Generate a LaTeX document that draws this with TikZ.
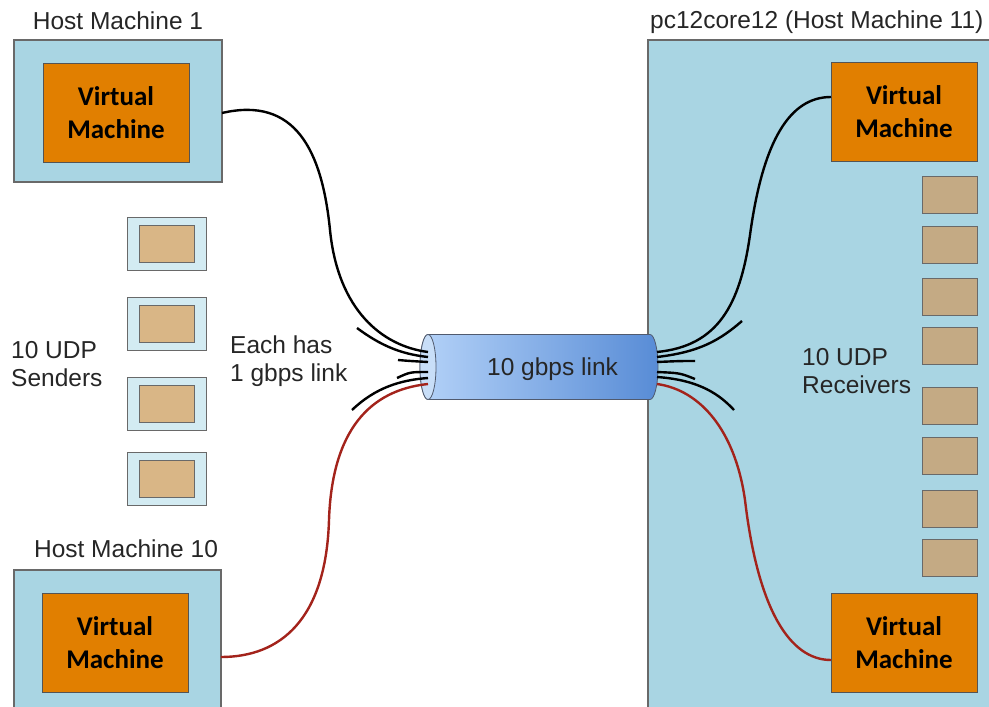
\documentclass[tikz,border=0pt]{standalone}
\usepackage{fontspec}
\setmainfont{Liberation Sans}
\newfontfamily\vmfont{Carlito}
\definecolor{hostblue}{RGB}{169,213,227}
\definecolor{vmorange}{RGB}{225,127,0}
\definecolor{sndouter}{RGB}{211,235,242}
\definecolor{sndinner}{RGB}{217,182,134}
\definecolor{rcvtan}{RGB}{196,170,132}
\definecolor{edgegray}{RGB}{105,105,105}
\definecolor{wirered}{RGB}{163,35,27}
\definecolor{tubelight}{RGB}{180,210,248}
\definecolor{tubedark}{RGB}{88,140,214}
\definecolor{tubeface}{RGB}{200,222,248}
\definecolor{tubeedge}{RGB}{80,90,110}
\tikzset{
  hostbox/.style={draw=edgegray, line width=1.2pt, fill=hostblue, inner sep=0pt, outer sep=0pt},
  vmbox/.style={draw=edgegray!80!black, line width=1pt, fill=vmorange, inner sep=0pt, outer sep=0pt,
    minimum width=146pt, minimum height=99pt, align=center,
    font=\vmfont\bfseries\fontsize{27}{33}\selectfont},
  sendbox/.style={draw=edgegray, line width=1pt, fill=sndouter, minimum width=79pt, minimum height=53pt, inner sep=0pt, outer sep=0pt},
  sendcore/.style={draw=edgegray, line width=1pt, fill=sndinner, minimum width=55pt, minimum height=37pt, inner sep=0pt, outer sep=0pt},
  recvbox/.style={draw=edgegray, line width=1pt, fill=rcvtan, minimum width=55pt, minimum height=37pt, inner sep=0pt, outer sep=0pt},
  lbl/.style={inner sep=0pt, font=\fontsize{24.5}{27.5}\selectfont, text=black!85},
  wire/.style={line width=2.4pt, black},
  redwire/.style={line width=2.4pt, wirered},
}
\begin{document}
\begin{tikzpicture}[x=1pt,y=-1pt]
\useasboundingbox (0,0) rectangle (989,707);
\clip (0,0) rectangle (989,707);
\fill[white] (0,0) rectangle (989,707);

% host machines on the sending side
\node[hostbox, minimum width=208pt, minimum height=142pt] (hm1) at (118,111) {};
\node[vmbox] (vm1) at (116,113) {Virtual\\Machine};
\node[lbl, anchor=base] (hm1lbl) at (118,29) {Host Machine 1};

\node[hostbox, minimum width=207pt, minimum height=160pt] (hm10) at (117.5,650) {};
\node[vmbox] (vm10) at (115,643) {Virtual\\Machine};
\node[lbl, anchor=base] (hm10lbl) at (126,557) {Host Machine 10};

% the receiving host
\node[hostbox, minimum width=360pt, minimum height=700pt, anchor=north west] (hm11) at (648,40) {};
\node[lbl, anchor=base west] (hm11lbl) at (650,28) {pc12core12 (Host Machine 11)};
\node[vmbox] (vm11a) at (904,112) {Virtual\\Machine};
\node[vmbox] (vm11b) at (904,643) {Virtual\\Machine};

% UDP senders
\foreach \n/\y in {1/243.5, 2/323.5, 3/403.5, 4/478.5} {
  \node[sendbox] (s\n) at (166.5,\y) {};
  \node[sendcore] (s\n core) at (s\n) {};
}
\node[lbl, anchor=base west, align=left] (sendlbl) at (11,386) {10 UDP\\Senders};
\node[lbl, anchor=base west, align=left] (eachlbl) at (230,381) {Each has\\1 gbps link};

% UDP receivers
\foreach \n/\y in {1/194.5, 2/244.5, 3/296.5, 4/345.5, 5/405.5, 6/455.5, 7/508.5, 8/557.5} {
  \node[recvbox] (r\n) at (949.5,\y) {};
}
\node[lbl, anchor=base west, align=left] (recvlbl) at (802,393) {10 UDP\\Receivers};

% the 10 gbps trunk
\path[draw=tubeedge, line width=0.8pt, left color=tubelight, right color=tubedark]
  (428,334.5) -- (650,334.5)
  arc[start angle=-90, end angle=90, x radius=8, y radius=32.5]
  -- (428,399.5)
  arc[start angle=90, end angle=270, x radius=8, y radius=32.5] -- cycle;
\path[draw=tubeedge, line width=0.8pt, fill=tubeface] (428,367) ellipse[x radius=8, y radius=32.5];
\node[lbl, anchor=base west] (link) at (487,375) {10 gbps link};

% wire ends at both faces of the trunk
\coordinate (la) at (428,352);
\coordinate (lb) at (428,357);
\coordinate (lc) at (428,362);
\coordinate (ld) at (428,372);
\coordinate (le) at (428,378);
\coordinate (lf) at (428,384);
\coordinate (ra) at (657,352);
\coordinate (rb) at (657,357);
\coordinate (rc) at (657,362);
\coordinate (rd) at (657,372);
\coordinate (re) at (657,377);
\coordinate (rf) at (657,384);
% free ends of the bundled 1 gbps links
\coordinate (lb0) at (357,328);
\coordinate (lc0) at (398,360);
\coordinate (ld0) at (397,378);
\coordinate (le0) at (352,410);
\coordinate (rb0) at (742,321);
\coordinate (rc0) at (695,361);
\coordinate (rd0) at (695,379);
\coordinate (re0) at (734,410);

% left side links
\draw[wire] (vm1.east -| hm1.east) .. controls (295,96) and (322,150) .. (330,230)
  .. controls (338,310) and (382,346) .. (la);
\draw[wire] (lb0) .. controls (380,345) and (400,354) .. (lb);
\draw[wire] (lc0) .. controls (410,361) .. (lc);
\draw[wire] (ld0) .. controls (410,372) .. (ld);
\draw[wire] (le0) .. controls (375,388) and (400,380) .. (le);
\draw[redwire] (lf) .. controls (370,390) and (332,430) .. (329,520)
  .. controls (326,620) and (280,657) .. (hm10.east |- 0,657);

% right side links
\draw[wire] (ra) .. controls (718,346) and (740,305) .. (750,235)
  .. controls (763,140) and (790,97) .. (vm11a.west |- 0,97);
\draw[wire] (rb) .. controls (700,352) and (720,340) .. (rb0);
\draw[wire] (rc) .. controls (680,361) .. (rc0);
\draw[wire] (rd) .. controls (680,373) .. (rd0);
\draw[wire] (re) .. controls (700,380) and (720,395) .. (re0);
\draw[redwire] (rf) .. controls (700,390) and (735,430) .. (745,500)
  .. controls (758,610) and (790,660) .. (vm11b.west |- 0,660);
\end{tikzpicture}
\end{document}
